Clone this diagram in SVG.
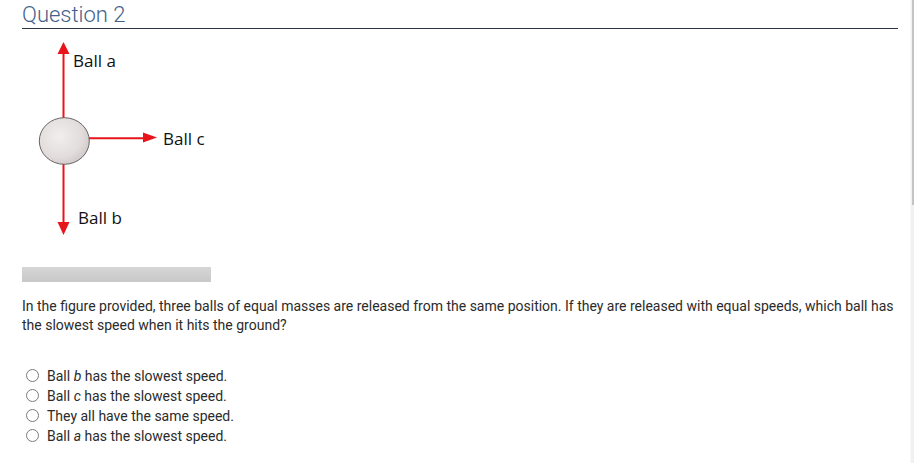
<svg xmlns="http://www.w3.org/2000/svg" width="914" height="463" viewBox="0 0 914 463">
<defs>
<style>
.title{font-family:Roboto,"Liberation Sans",sans-serif;font-weight:300;font-size:22px;fill:#43608a}
.lbl{font-family:"Open Sans","Noto Sans","Liberation Sans",sans-serif;font-size:17px;fill:#111}
.body{font-family:Roboto,"Liberation Sans",sans-serif;font-size:14px;fill:#2b2b2b}
.arr{stroke:#e8141c;stroke-width:2;fill:none}
.radio{fill:#fff;stroke:#7a7a7a;stroke-width:1}
</style>
<radialGradient id="ballg" cx="0.4" cy="0.4" r="0.65">
<stop offset="0" stop-color="#f2eeee"/>
<stop offset="0.7" stop-color="#e2dcdc"/>
<stop offset="1" stop-color="#cfc8c8"/>
</radialGradient>
<linearGradient id="barg" x1="0" y1="0" x2="0" y2="1">
<stop offset="0" stop-color="#d6d6d6"/>
<stop offset="1" stop-color="#c8c8c8"/>
</linearGradient>
</defs>
<rect width="914" height="463" fill="#fff"/>
<text class="title" x="22" y="22">Question 2</text>
<line x1="22" y1="28.5" x2="898" y2="28.5" stroke="#2e3449" stroke-width="1.2"/>
<g id="connectors">
<line class="arr" x1="63.5" y1="118" x2="63.5" y2="52"/>
<polygon points="63.5,42 57.5,54 69.5,54" fill="#e8141c"/>
<line class="arr" x1="63.5" y1="164" x2="63.5" y2="224"/>
<polygon points="63.5,235 57.5,222 69.5,222" fill="#e8141c"/>
<line class="arr" x1="89" y1="138.3" x2="146" y2="138.3"/>
<polygon points="157,137.5 143,132.5 143,142.5" fill="#e8141c"/>
</g>
<g id="ball">
<ellipse cx="64.3" cy="141" rx="25" ry="23.3" fill="url(#ballg)" stroke="#6a6464" stroke-width="1"/>
</g>
<g id="ball-a"><text class="lbl" x="73" y="67">Ball a</text></g>
<g id="ball-c"><text class="lbl" x="163" y="145">Ball c</text></g>
<g id="ball-b"><text class="lbl" x="78" y="224">Ball b</text></g>
<rect x="22" y="267" width="189" height="15" fill="url(#barg)"/>
<text class="body" x="22" y="311">In the figure provided, three balls of equal masses are released from the same position. If they are released with equal speeds, which ball has</text>
<text class="body" x="22" y="330">the slowest speed when it hits the ground?</text>
<g id="options">
<circle class="radio" cx="32.5" cy="375.5" r="6"/>
<circle class="radio" cx="32.5" cy="395.5" r="6"/>
<circle class="radio" cx="32.5" cy="415.5" r="6"/>
<circle class="radio" cx="32.5" cy="435.5" r="6"/>
<text class="body" x="47" y="380.5">Ball <tspan font-style="italic">b</tspan> has the slowest speed.</text>
<text class="body" x="47" y="400.5">Ball <tspan font-style="italic">c</tspan> has the slowest speed.</text>
<text class="body" x="47" y="420.5">They all have the same speed.</text>
<text class="body" x="47" y="440.5">Ball <tspan font-style="italic">a</tspan> has the slowest speed.</text>
</g>
<rect x="910.5" y="0" width="3.5" height="463" fill="#f1f1f1"/>
<rect x="912" y="0" width="2" height="205" fill="#c4c4c4"/>
</svg>
